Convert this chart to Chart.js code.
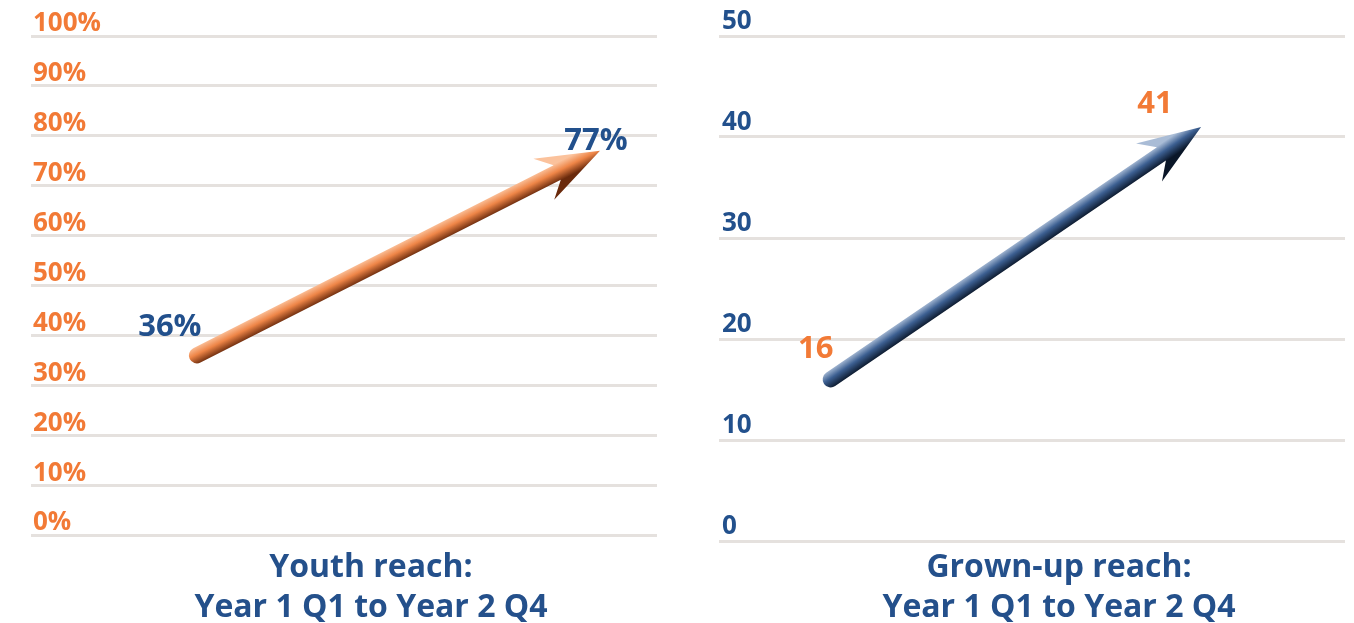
<!DOCTYPE html>
<html>
<head>
<meta charset="utf-8">
<title>Reach</title>
<script src="https://cdn.jsdelivr.net/npm/chart.js@4/dist/chart.umd.min.js"></script>
<style>
	html, body { margin: 0; padding: 0; background: #fff; }
	.panel { position: absolute; top: 0; width: 677px; height: 623px; }
	.panel canvas { position: absolute; left: 0; top: 0; }
	.caption {
		position: absolute;
		top: 545px;
		width: 600px;
		text-align: center;
		font: bold 32px/40px 'Open Sans', sans-serif;
		font-stretch: 92%;
		color: #24508b;
	}
</style>
</head>
<body>
<div class="panel" style="left:0">
	<canvas id="chart-youth" width="677" height="623"></canvas>
	<div class="caption" id="caption-youth" style="left:71px"></div>
</div>
<div class="panel" style="left:677px">
	<canvas id="chart-grown" width="677" height="623"></canvas>
	<div class="caption" id="caption-grown" style="left:82px"></div>
</div>
<script>
( function () {
	'use strict';

	// ── Data ─────────────────────────────────────────────────────────────

	// Quarter index: Year 1 Q1 = 0 … Year 2 Q4 = 7
	var QUARTERS       = [ 0, 7 ];
	var YOUTH_REACH    = [ 36, 77 ];   // percent
	var GROWN_UP_REACH = [ 16, 41 ];   // people
	var YOUTH_TITLE    = [ 'Youth reach:', 'Year 1 Q1 to Year 2 Q4' ];
	var GROWN_UP_TITLE = [ 'Grown-up reach:', 'Year 1 Q1 to Year 2 Q4' ];

	var ORANGE = '#f27a36';
	var BLUE   = '#22508c';
	var FONT   = "'Open Sans', sans-serif";

	// ── Helpers ──────────────────────────────────────────────────────────

	function getCtx( id ) {
		var el = document.getElementById( id );
		return el ? el.getContext( '2d' ) : null;
	}

	function points( xs, ys ) {
		return xs.map( function ( x, i ) { return { x: x, y: ys[ i ] }; } );
	}

	// ── Plugins ──────────────────────────────────────────────────────────

	// Thick shaded arrow from the first point of dataset 0 to the last one.
	var arrowPlugin = {
		id: 'reachArrow',
		afterDatasetsDraw: function ( chart, args, opts ) {
			var pts = chart.getDatasetMeta( 0 ).data;
			if ( pts.length < 2 ) {
				return;
			}
			var ctx = chart.ctx;
			var a = pts[ 0 ], b = pts[ pts.length - 1 ];
			var dx = b.x - a.x, dy = b.y - a.y;
			var len = Math.sqrt( dx * dx + dy * dy );
			var ux = dx / len, uy = dy / len;
			var nx = uy, ny = -ux;                  // points to the lit side
			var hw = opts.shaft / 2, HW = opts.headWidth / 2;

			function at( along, side ) {
				return [ b.x + ux * along + nx * side, b.y + uy * along + ny * side ];
			}

			var g = ctx.createLinearGradient(
				a.x + nx * hw * 1.1, a.y + ny * hw * 1.1,
				a.x - nx * hw * 1.1, a.y - ny * hw * 1.1
			);
			g.addColorStop( 0, opts.colors[ 0 ] );
			g.addColorStop( 0.45, opts.colors[ 1 ] );
			g.addColorStop( 1, opts.colors[ 2 ] );

			ctx.save();
			ctx.beginPath();
			ctx.moveTo( a.x + nx * hw, a.y + ny * hw );
			ctx.lineTo.apply( ctx, at( -opts.neck, hw ) );
			ctx.lineTo.apply( ctx, at( -opts.headLength, HW ) );
			ctx.lineTo( b.x, b.y );
			ctx.lineTo.apply( ctx, at( -opts.headLength, -HW ) );
			ctx.lineTo.apply( ctx, at( -opts.neck, -hw ) );
			ctx.lineTo( a.x - nx * hw, a.y - ny * hw );
			ctx.arc( a.x, a.y, hw, Math.atan2( -ny, -nx ), Math.atan2( ny, nx ), false );
			ctx.closePath();
			ctx.fillStyle = g;
			ctx.fill();
			ctx.restore();
		},
	};

	// Value labels next to each point.
	var valueLabelPlugin = {
		id: 'valueLabels',
		afterDatasetsDraw: function ( chart, args, opts ) {
			var ctx = chart.ctx;
			var ds = chart.data.datasets[ 0 ];
			var pts = chart.getDatasetMeta( 0 ).data;
			ctx.save();
			ctx.font = 'bold ' + opts.size + 'px ' + FONT;
			ctx.fillStyle = opts.color;
			ctx.textAlign = 'center';
			ctx.textBaseline = 'middle';
			pts.forEach( function ( p, i ) {
				var off = opts.offsets[ i ];
				ctx.fillText( opts.format( ds.data[ i ].y ), p.x + off[ 0 ], p.y + off[ 1 ] );
			} );
			ctx.restore();
		},
	};

	// ── Charts ───────────────────────────────────────────────────────────

	function buildReachChart( id, cfg ) {
		var ctx = getCtx( id );
		if ( ! ctx ) {
			return;
		}

		new Chart( ctx, {
			type: 'line',
			data: {
				datasets: [ {
					data: points( QUARTERS, cfg.values ),
					showLine: false,
					pointRadius: 0,
				} ],
			},
			plugins: [ arrowPlugin, valueLabelPlugin ],
			options: {
				responsive: false,
				animation: false,
				layout: { padding: cfg.padding },
				plugins: {
					legend: { display: false },
					tooltip: { enabled: false },
					reachArrow: {
						colors: cfg.arrowColors,
						shaft: 16,
						headLength: 63,
						headWidth: 46,
						neck: 48,
					},
					valueLabels: {
						size: 31,
						color: cfg.labelColor,
						offsets: cfg.labelOffsets,
						format: cfg.format,
					},
				},
				scales: {
					x: {
						type: 'linear',
						display: false,
						min: cfg.xRange[ 0 ],
						max: cfg.xRange[ 1 ],
					},
					y: {
						min: 0,
						max: cfg.max,
						border: { display: false },
						grid: {
							color: '#e5e1de',
							lineWidth: 3,
							drawTicks: false,
						},
						ticks: {
							stepSize: cfg.step,
							mirror: true,
							padding: cfg.tickPadding,
							labelOffset: cfg.labelOffset,
							color: cfg.tickColor,
							font: { family: FONT, size: 26, weight: 'bold' },
							callback: cfg.format,
						},
					},
				},
			},
		} );
	}

	function setCaption( id, lines ) {
		var el = document.getElementById( id );
		if ( el ) {
			el.innerHTML = lines.join( '<br>' );
		}
	}

	// ── Init ─────────────────────────────────────────────────────────────

	buildReachChart( 'chart-youth', {
		values: YOUTH_REACH,
		max: 100,
		step: 10,
		format: function ( v ) { return v + '%'; },
		padding: { left: 27, right: 20, top: 36, bottom: 88 },
		xRange: [ -2.88, 7.99 ],
		tickColor: ORANGE,
		tickPadding: 2,
		labelOffset: -12,
		labelColor: BLUE,
		labelOffsets: [ [ -27, -28 ], [ -4, -10 ] ],
		arrowColors: [ '#fbc29c', '#ee8547', '#6a2a0c' ],
	} );

	buildReachChart( 'chart-grown', {
		values: GROWN_UP_REACH,
		max: 50,
		step: 10,
		format: function ( v ) { return String( v ); },
		padding: { left: 36, right: 9, top: 36, bottom: 82 },
		xRange: [ -2.11, 9.72 ],
		tickColor: BLUE,
		tickPadding: 3,
		labelOffset: -14,
		labelColor: ORANGE,
		labelOffsets: [ [ -15, -30 ], [ -46, -23 ] ],
		arrowColors: [ '#a9bcd6', '#3c5f91', '#0a1628' ],
	} );

	setCaption( 'caption-youth', YOUTH_TITLE );
	setCaption( 'caption-grown', GROWN_UP_TITLE );
} )();
</script>
</body>
</html>
